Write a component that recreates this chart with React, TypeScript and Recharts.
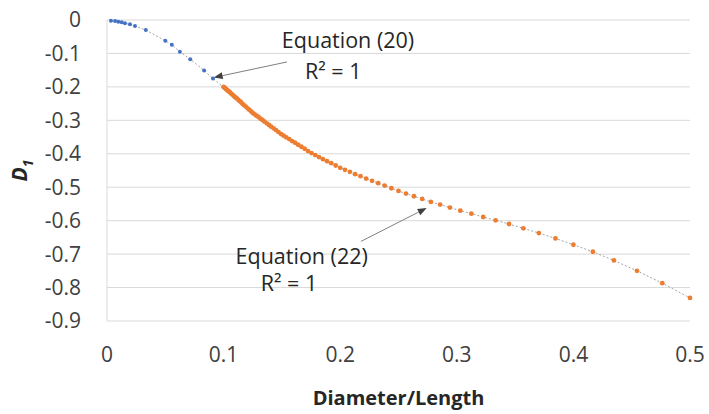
import React from 'react'
import { CartesianGrid, Label, ReferenceDot, ReferenceLine, Scatter, ScatterChart, XAxis, YAxis } from 'recharts'

// Equation (20) range, D/L up to 0.1
const eq20X = [0.0034, 0.0069, 0.0097, 0.0126, 0.0154, 0.0197, 0.024, 0.0333, 0.05, 0.0556, 0.0625, 0.0714, 0.0833, 0.0909, 0.1]
const eq20Y = [-0.002, -0.003, -0.005, -0.007, -0.01, -0.013, -0.018, -0.03, -0.062, -0.074, -0.095, -0.117, -0.151, -0.175, -0.201]

// Equation (22) range, D/L from 0.1 to 0.5
const eq22X = [
  0.1, 0.101, 0.102, 0.1031, 0.1042, 0.1053, 0.1064, 0.1075, 0.1087, 0.1099,
  0.1111, 0.1124, 0.1136, 0.1149, 0.1163, 0.1176, 0.119, 0.1205, 0.122, 0.1235,
  0.125, 0.1266, 0.1282, 0.1299, 0.1316, 0.1333, 0.1351, 0.137, 0.1389, 0.1408,
  0.1429, 0.1449, 0.1471, 0.1493, 0.1515, 0.1538, 0.1563, 0.1587, 0.1613, 0.1639,
  0.1667, 0.1695, 0.1724, 0.1754, 0.1786, 0.1818, 0.1852, 0.1887, 0.1923, 0.1961,
  0.2, 0.2041, 0.2083, 0.2128, 0.2174, 0.2222, 0.2273, 0.2326, 0.2381, 0.2439,
  0.25, 0.2564, 0.2632, 0.2703, 0.2778, 0.2857, 0.2941, 0.303, 0.3125, 0.3226,
  0.3333, 0.3448, 0.3571, 0.3704, 0.3846, 0.4, 0.4167, 0.4348, 0.4545, 0.4762, 0.5,
]
const eq22Y = [
  -0.2, -0.203, -0.206, -0.21, -0.213, -0.216, -0.22, -0.223, -0.227, -0.231,
  -0.234, -0.238, -0.242, -0.246, -0.251, -0.255, -0.259, -0.264, -0.268, -0.273,
  -0.278, -0.282, -0.286, -0.29, -0.295, -0.299, -0.304, -0.309, -0.314, -0.319,
  -0.324, -0.329, -0.335, -0.341, -0.346, -0.351, -0.356, -0.362, -0.367, -0.373,
  -0.379, -0.385, -0.392, -0.398, -0.404, -0.41, -0.416, -0.422, -0.428, -0.435,
  -0.442, -0.448, -0.454, -0.461, -0.467, -0.474, -0.481, -0.488, -0.495, -0.503,
  -0.511, -0.519, -0.527, -0.535, -0.544, -0.552, -0.561, -0.57, -0.579, -0.589,
  -0.599, -0.61, -0.623, -0.637, -0.653, -0.672, -0.693, -0.719, -0.75, -0.787, -0.831,
]

const xTicks = [0, 0.1, 0.2, 0.3, 0.4, 0.5]
const yTicks = [0, -0.1, -0.2, -0.3, -0.4, -0.5, -0.6, -0.7, -0.8, -0.9]

const eq20 = eq20X.map((x, i) => ({ x, y: eq20Y[i] }))
const eq22 = eq22X.map((x, i) => ({ x, y: eq22Y[i] }))

const FONT = '"Open Sans", sans-serif'
const tickStyle = { fill: '#404040', fontSize: 21, fontFamily: FONT }

const dot = (r: number, color: string) => (p: any) => <circle cx={p.cx} cy={p.cy} r={r} fill={color} />

const arrow = (p: any) => {
  const { x1, y1, x2, y2 } = p
  const a = Math.atan2(y2 - y1, x2 - x1)
  const L = 9, W = 3.5
  const bx = x2 - L * Math.cos(a), by = y2 - L * Math.sin(a)
  const pts = `${x2},${y2} ${bx - W * Math.sin(a)},${by + W * Math.cos(a)} ${bx + W * Math.sin(a)},${by - W * Math.cos(a)}`
  return (
    <g>
      <line x1={x1} y1={y1} x2={bx} y2={by} stroke="#7f7f7f" strokeWidth={1} />
      <polygon points={pts} fill="#404040" />
    </g>
  )
}

const note = (text: string) => (p: any) => {
  const { x, y, width, height } = p.viewBox
  return (
    <text x={x + width / 2} y={y + height / 2} dy="0.35em" textAnchor="middle" fill="#262626" fontSize={21.5} fontFamily={FONT}>
      {text}
    </text>
  )
}

const yTitle = (p: any) => {
  const { x, y, height } = p.viewBox
  const cx = x + 20
  const cy = y + height / 2
  return (
    <text transform={`rotate(-90, ${cx}, ${cy})`} x={cx} y={cy} dy="0.35em" textAnchor="middle" fill="#262626" fontSize={21} fontWeight="bold" fontStyle="italic" fontFamily={FONT}>
      D<tspan fontSize={14} dy="6">1</tspan>
    </text>
  )
}

export default function App() {
  return (
    <div style={{ position: 'absolute', left: 0, top: 0, background: '#fff' }}>
      <ScatterChart width={709} height={414} margin={{ top: 20, right: 19, bottom: 0, left: 0 }}>
        <CartesianGrid stroke="#d9d9d9" vertical={false} />
        <XAxis
          type="number"
          dataKey="x"
          domain={[0, 0.5]}
          ticks={xTicks}
          height={93}
          axisLine={false}
          tickLine={false}
          tickSize={6}
          tickMargin={20}
          tick={tickStyle}
        >
          <Label value="Diameter/Length" position="insideBottom" offset={9} fill="#262626" fontSize={20} fontWeight="bold" fontFamily={FONT} />
        </XAxis>
        <YAxis
          type="number"
          dataKey="y"
          domain={[-0.9, 0]}
          ticks={yTicks}
          width={107}
          axisLine={{ stroke: '#d9d9d9' }}
          tickLine={false}
          tickSize={6}
          tickMargin={20}
          tick={tickStyle}
        >
          <Label content={yTitle} />
        </YAxis>
        <Scatter
          data={eq20}
          line={{ stroke: '#8c8c8c', strokeWidth: 0.8, strokeDasharray: '2 2' }}
          shape={dot(2, '#4472C4')}
          isAnimationActive={false}
        />
        <Scatter
          data={eq22}
          line={{ stroke: '#8c8c8c', strokeWidth: 0.8, strokeDasharray: '2 2' }}
          shape={dot(2.4, '#ED7D31')}
          isAnimationActive={false}
        />
        <ReferenceLine segment={[{ x: 0.1544, y: -0.1254 }, { x: 0.0915, y: -0.172 }]} shape={arrow} />
        <ReferenceLine segment={[{ x: 0.2178, y: -0.662 }, { x: 0.2742, y: -0.562 }]} shape={arrow} />
        <ReferenceDot x={0.2067} y={-0.06} r={0} fill="none" stroke="none" label={note('Equation (20)')} />
        <ReferenceDot x={0.194} y={-0.155} r={0} fill="none" stroke="none" label={note('R² = 1')} />
        <ReferenceDot x={0.167} y={-0.7075} r={0} fill="none" stroke="none" label={note('Equation (22)')} />
        <ReferenceDot x={0.1561} y={-0.788} r={0} fill="none" stroke="none" label={note('R² = 1')} />
      </ScatterChart>
    </div>
  )
}
